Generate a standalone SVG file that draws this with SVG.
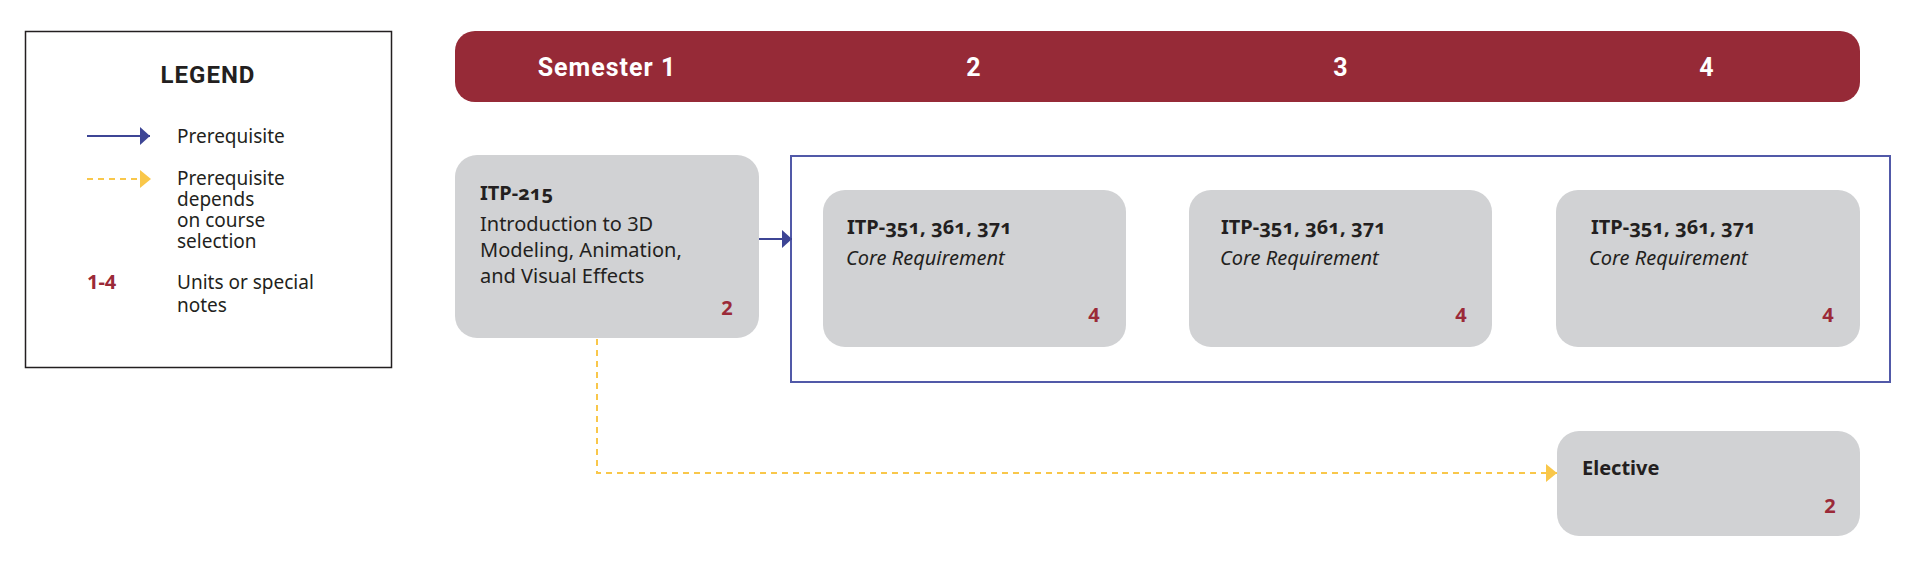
<svg xmlns="http://www.w3.org/2000/svg" width="1920" height="577" viewBox="0 0 1920 577">
<style>
.node{fill:#d1d2d4}
.ttl{font-family:"Noto Sans","Liberation Sans",sans-serif;font-weight:700;font-size:20px;fill:#231f20;font-feature-settings:"onum"}
.body{font-family:"Noto Sans","Liberation Sans",sans-serif;font-size:20px;fill:#231f20}
.ital{font-family:"Noto Sans","Liberation Sans",sans-serif;font-style:italic;font-size:20px;fill:#231f20}
.unit{font-family:"Noto Sans","Liberation Sans",sans-serif;font-weight:700;font-size:20px;fill:#9b2a38;text-anchor:middle}
.hdr{font-family:Roboto,"Liberation Sans",sans-serif;font-weight:700;font-size:25px;fill:#ffffff;text-anchor:middle;letter-spacing:1px}
.leg{font-family:"Noto Sans","Liberation Sans",sans-serif;font-size:19px;fill:#231f20}
.blue{stroke:#3d4595;stroke-width:2;fill:none}
.yel{stroke:#f9c74a;stroke-width:2;fill:none;stroke-dasharray:6 5}
</style>
<defs>
<marker id="ab" markerUnits="userSpaceOnUse" markerWidth="10" markerHeight="18" refX="10" refY="9" orient="auto"><path d="M0,0 L10,9 L0,18 z" fill="#3d4595"/></marker>
<marker id="ay" markerUnits="userSpaceOnUse" markerWidth="11" markerHeight="18" refX="11" refY="9" orient="auto"><path d="M0,0 L11,9 L0,18 z" fill="#f9c74a"/></marker>
</defs>
<rect width="1920" height="577" fill="#ffffff"/>
<g id="legend">
<rect x="25.5" y="31.5" width="366" height="336" fill="#ffffff" stroke="#231f20" stroke-width="1.5"/>
<text x="208" y="83" text-anchor="middle" style="font-family:Roboto,'Liberation Sans',sans-serif;font-weight:700;font-size:24px;fill:#231f20;letter-spacing:1px">LEGEND</text>
<line x1="87" y1="136" x2="150" y2="136" class="blue" marker-end="url(#ab)"/>
<text x="177" y="143" class="leg">Prerequisite</text>
<line x1="87" y1="179" x2="151" y2="179" class="yel" marker-end="url(#ay)"/>
<text class="leg"><tspan x="177" y="185">Prerequisite</tspan><tspan x="177" y="206">depends</tspan><tspan x="177" y="227">on course</tspan><tspan x="177" y="248">selection</tspan></text>
<text x="87" y="289" style="font-family:'Noto Sans','Liberation Sans',sans-serif;font-weight:700;font-size:20px;fill:#9b2a38">1-4</text>
<text class="leg"><tspan x="177" y="289">Units or special</tspan><tspan x="177" y="312">notes</tspan></text>
</g>
<g id="header">
<rect x="455" y="31" width="1405" height="71" rx="20" fill="#962a37"/>
<text x="607" y="76" class="hdr">Semester 1</text>
<text x="974" y="76" class="hdr">2</text>
<text x="1341" y="76" class="hdr">3</text>
<text x="1707" y="76" class="hdr">4</text>
</g>
<g id="group-core">
<rect x="791" y="156" width="1099" height="226" fill="none" stroke="#5159a8" stroke-width="2"/>
</g>
<g id="connectors">
<line x1="759" y1="239" x2="792" y2="239" class="blue" marker-end="url(#ab)"/>
<polyline points="597,339 597,473 1557,473" class="yel" marker-end="url(#ay)"/>
</g>
<g id="itp215">
<rect x="455" y="155" width="304" height="183" rx="22" class="node"/>
<text x="480" y="200" class="ttl">ITP-215</text>
<text class="body"><tspan x="480" y="231">Introduction to 3D</tspan><tspan x="480" y="257">Modeling, Animation,</tspan><tspan x="480" y="283">and Visual Effects</tspan></text>
<text x="727" y="315" class="unit">2</text>
</g>
<g id="core1">
<rect x="823" y="190" width="303" height="157" rx="22" class="node"/>
<text x="847" y="234" class="ttl">ITP-351, 361, 371</text>
<text x="846" y="265" class="ital">Core Requirement</text>
<text x="1094" y="322" class="unit">4</text>
</g>
<g id="core2">
<rect x="1189" y="190" width="303" height="157" rx="22" class="node"/>
<text x="1221" y="234" class="ttl">ITP-351, 361, 371</text>
<text x="1220" y="265" class="ital">Core Requirement</text>
<text x="1461" y="322" class="unit">4</text>
</g>
<g id="core3">
<rect x="1556" y="190" width="304" height="157" rx="22" class="node"/>
<text x="1591" y="234" class="ttl">ITP-351, 361, 371</text>
<text x="1589" y="265" class="ital">Core Requirement</text>
<text x="1828" y="322" class="unit">4</text>
</g>
<g id="elective">
<rect x="1557" y="431" width="303" height="105" rx="22" class="node"/>
<text x="1582" y="475" class="ttl">Elective</text>
<text x="1830" y="513" class="unit">2</text>
</g>
</svg>
